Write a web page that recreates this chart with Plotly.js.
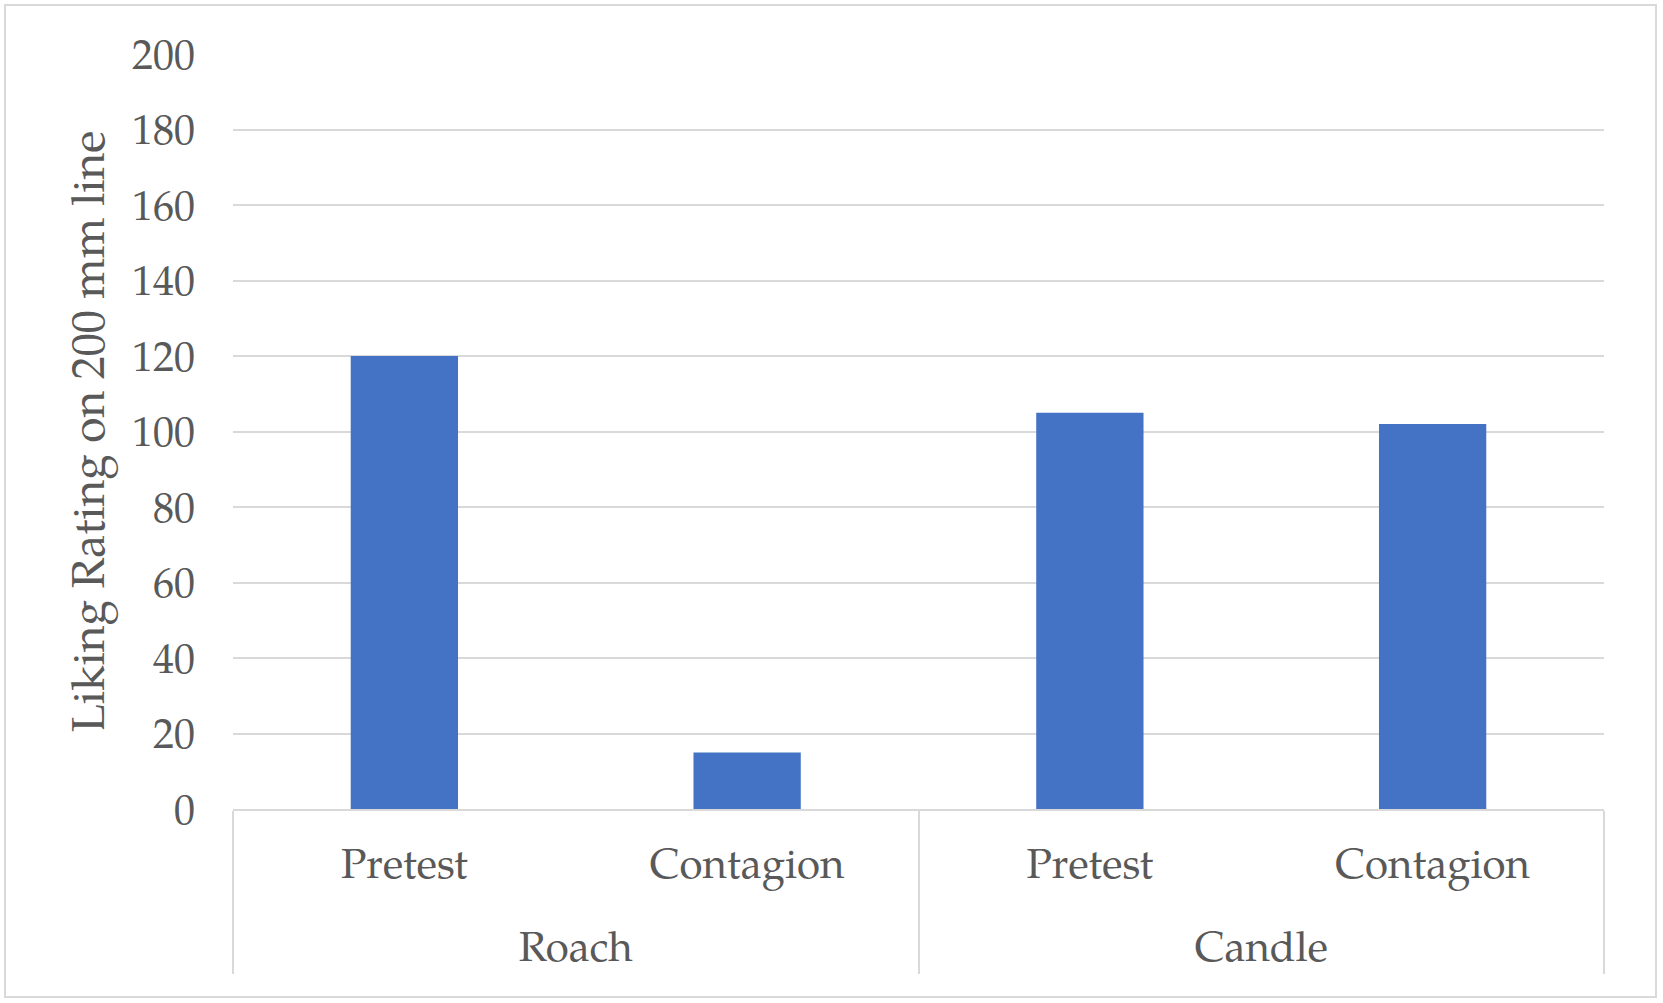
<!DOCTYPE html>
<html>
<head>
<meta charset="utf-8">
<script src="https://cdn.plot.ly/plotly-3.0.1.min.js"></script>
<style>
html,body{margin:0;padding:0;background:#fff;}
#chart{width:1663px;height:1003px;}
</style>
</head>
<body>
<div id="chart"></div>
<script>
const groups = ['Roach', 'Roach', 'Candle', 'Candle'];
const conditions = ['Pretest', 'Contagion', 'Pretest', 'Contagion'];
const ratings = [120, 15, 105, 102];
const yTitle = 'Liking Rating on 200 mm line';

const FONT = '"Palatino Linotype", "Book Antiqua", Palatino, "URW Palladio L", P052, "TeX Gyre Pagella", "Liberation Serif", "DejaVu Serif", serif';
const TXT = '#595959';
const GRID = '#d9d9d9';

// group labels get a leading blank line so the second row sits lower, as in the original
const groupLabels = groups.map(g => '<br>' + g);

const trace = {
  type: 'bar',
  x: [groupLabels, conditions],
  y: ratings,
  marker: {color: '#4472C4'},
  hoverinfo: 'none'
};

const layout = {
  width: 1663,
  height: 1003,
  margin: {l: 233, r: 59, t: 54, b: 194},
  paper_bgcolor: '#fff',
  plot_bgcolor: '#fff',
  showlegend: false,
  bargap: 0.687,
  font: {family: FONT, color: TXT, size: 42},
  xaxis: {
    type: 'multicategory',
    showline: true,
    linecolor: GRID,
    linewidth: 2,
    showgrid: false,
    ticks: '',
    showdividers: true,
    dividercolor: GRID,
    dividerwidth: 2,
    ticklabelstandoff: 17,
    tickfont: {family: FONT, color: TXT, size: 42},
    automargin: false
  },
  yaxis: {
    range: [0, 200],
    dtick: 20,
    showgrid: true,
    gridcolor: GRID,
    gridwidth: 2,
    zeroline: false,
    showline: false,
    ticks: '',
    ticklabelstandoff: 37,
    tickfont: {family: FONT, color: TXT, size: 42},
    title: {text: yTitle, font: {family: FONT, color: TXT, size: 46}, standoff: 12},
    automargin: false
  },
  shapes: [{
    type: 'rect', xref: 'paper', yref: 'paper',
    x0: (5 - 233) / 1371, x1: (1656 - 233) / 1371,
    y0: (809 - 997) / 755, y1: (809 - 5) / 755,
    line: {color: GRID, width: 2}, fillcolor: 'rgba(0,0,0,0)', layer: 'below'
  }]
};

Plotly.newPlot('chart', [trace], layout, {staticPlot: true, displayModeBar: false});
</script>
</body>
</html>
